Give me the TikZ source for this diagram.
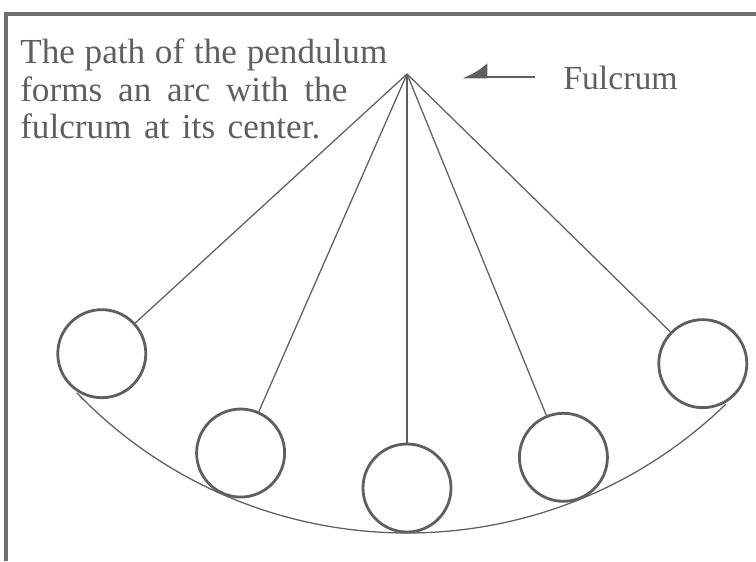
\documentclass[tikz,border=0pt]{standalone}
\usepackage{fontspec}
\setmainfont{Liberation Serif}
\usepackage{xcolor}
\usetikzlibrary{arrows.meta, calc}
\definecolor{tintaabu}{RGB}{95, 95, 95}

\begin{document}
\begin{tikzpicture}[
    x=0.025cm, y=0.025cm,
    font=\fontsize{25}{27}\selectfont,
    bingkai/.style={draw=tintaabu!90, line width=2.8pt},
    bandul/.style={draw=tintaabu, circle, line width=2pt, minimum size=2.2cm, inner sep=0pt},
    tali/.style={draw=tintaabu, line width=0.9pt},
    penunjuk/.style={-{Latex[harpoon, swap, length=5.5mm, width=7mm]}, line width=2pt, tintaabu}
  ]
    % Satuan gambar = satu piksel acuan (756 x 561).
    \useasboundingbox (0,0) rectangle (756,561);
    \draw[bingkai] (6,0) -- (6,547) -- (756,547);
    \coordinate (tumpu) at (407,487);
    \foreach \a [count=\i] in {222.5, 246.3, 270, 292.2, 315.6} {
      \node[bandul] (b\i) at ($(tumpu)+(\a:414)$) {};
      \draw[tali] (tumpu) -- (b\i);
    }
    \draw[tali] ($(tumpu)+(224:459)$) arc[start angle=224, end angle=314, radius=459];
    \node[align=left, anchor=north west, inner sep=0pt, text=tintaabu] (ket) at (20,523)
      {\makebox[9.175cm][s]{The path of the pendulum}\\
       \makebox[8.175cm][s]{forms an arc with the}\\
       \makebox[7.5cm][s]{fulcrum at its center.}};
    \node[anchor=base west, inner sep=0pt, text=tintaabu, font=\fontsize{24}{26}\selectfont] (fulkrum) at (563,471) {Fulcrum};
    \coordinate (ekor) at (535,484);
    \coordinate (ujung) at (462,484);
    \draw[penunjuk] (ekor) -- (ujung);
  \end{tikzpicture}
\end{document}
